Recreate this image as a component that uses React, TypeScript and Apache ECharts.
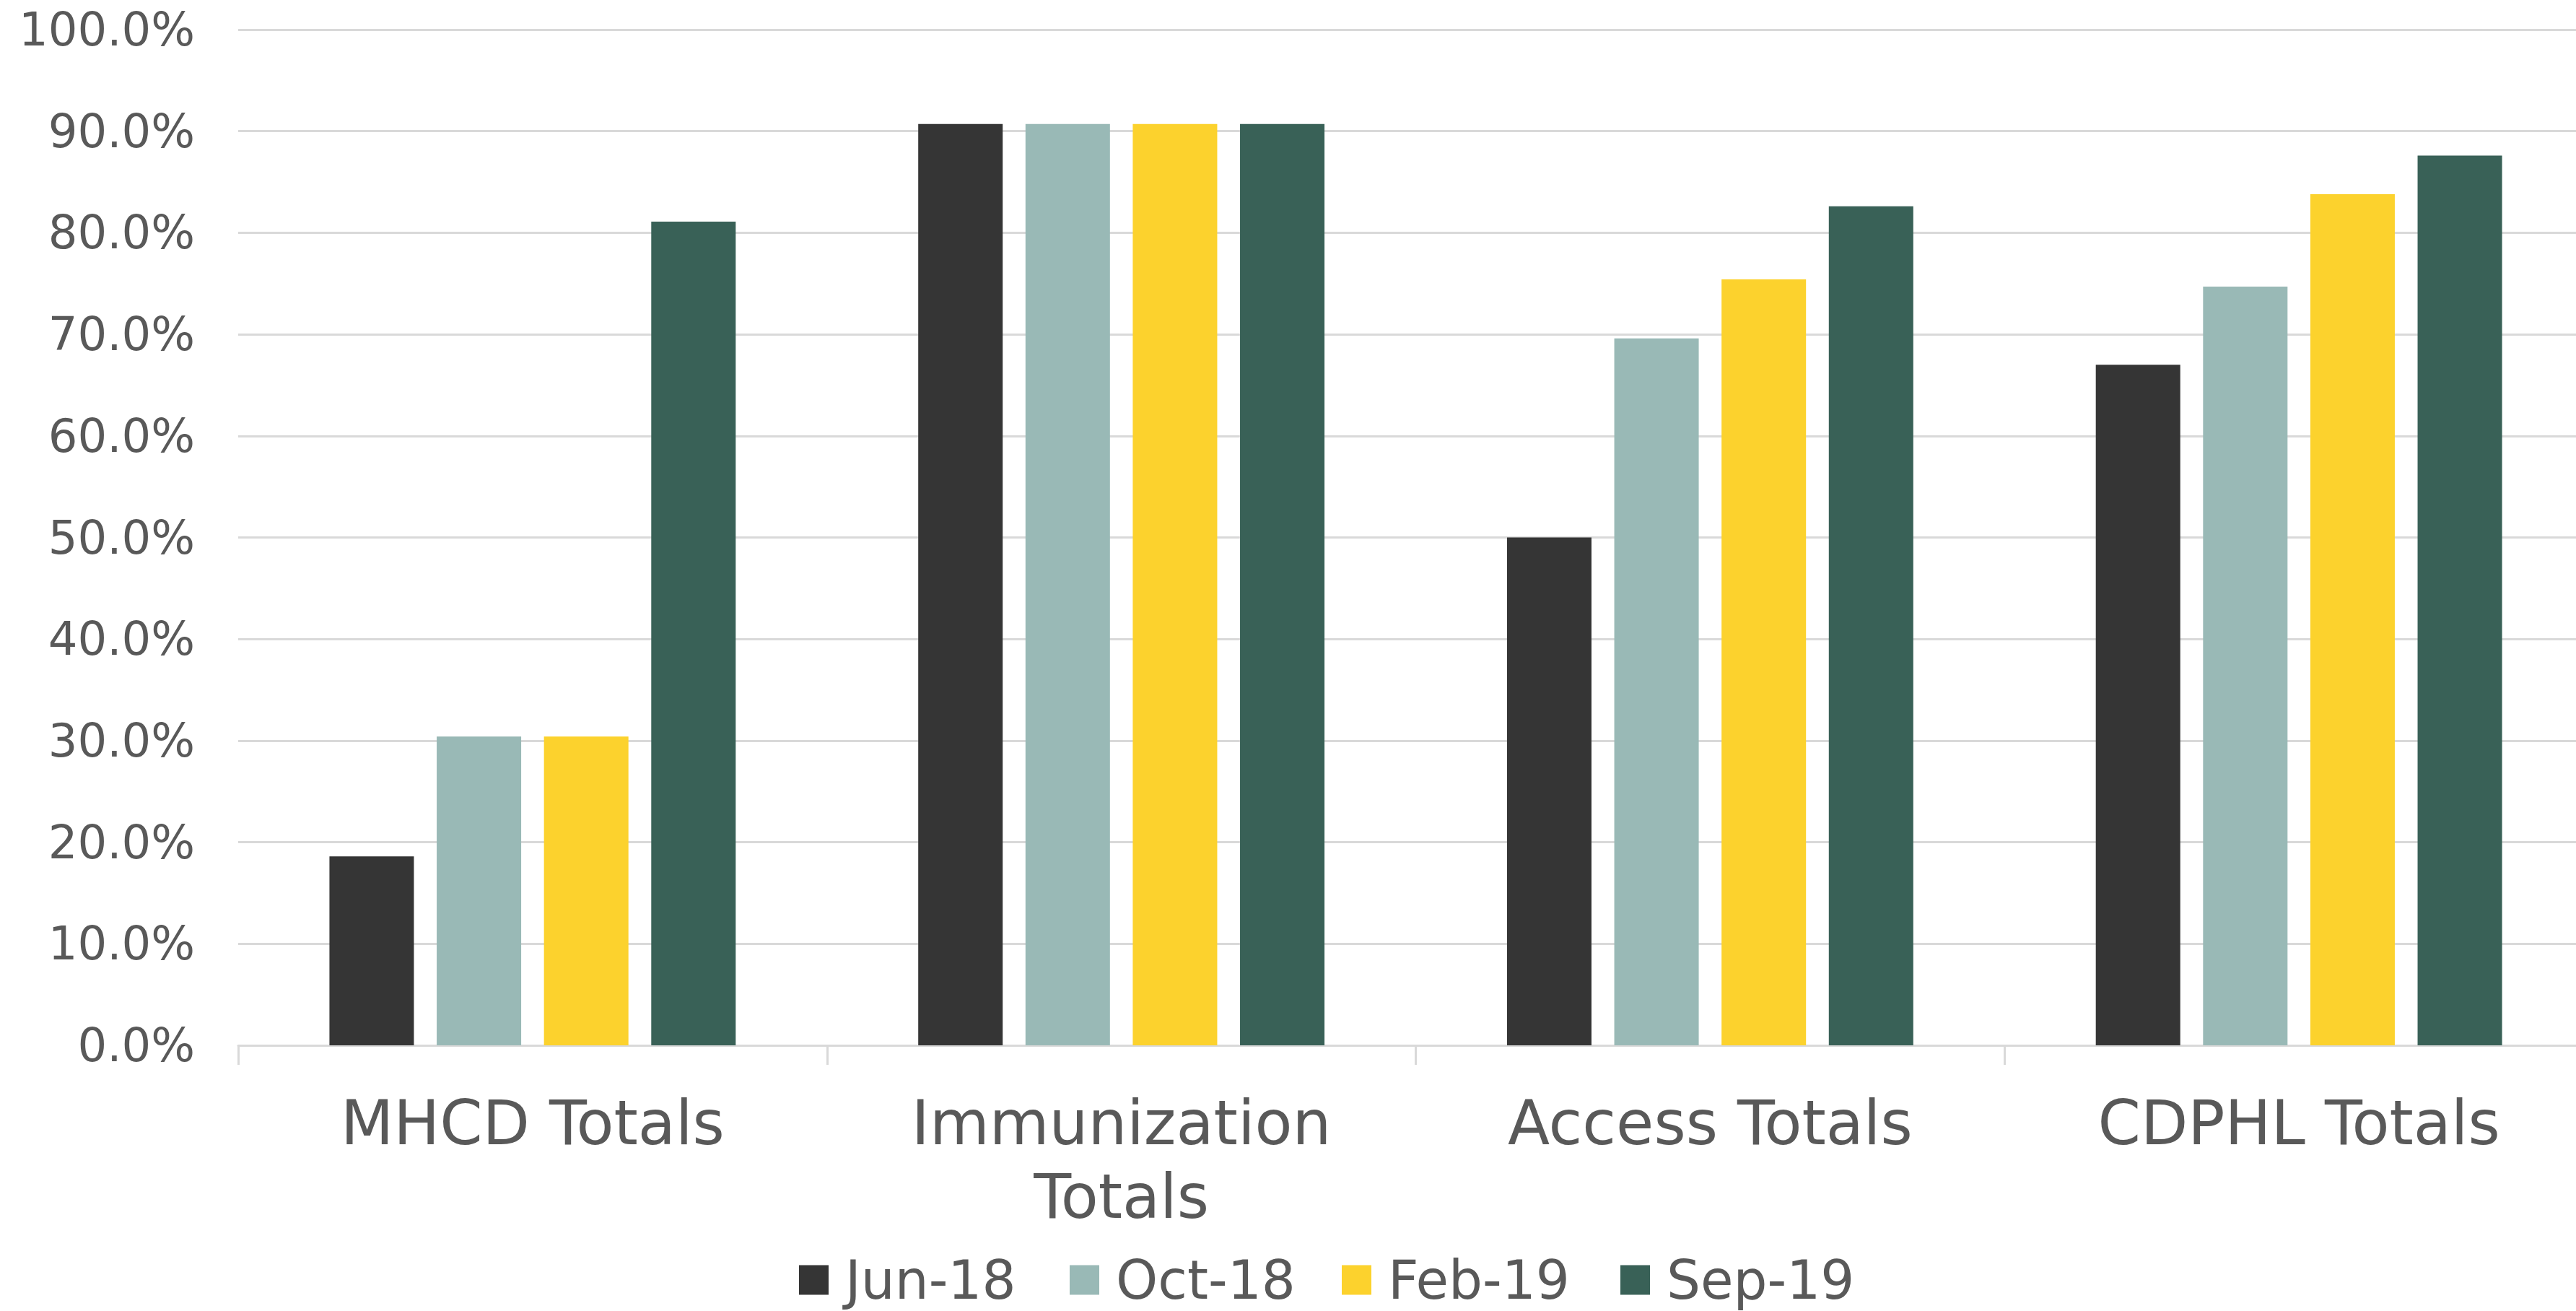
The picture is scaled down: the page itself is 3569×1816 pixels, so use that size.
import React, { useEffect, useRef } from "react";
import * as echarts from "echarts";

const categories = ["MHCD Totals", "Immunization\nTotals", "Access Totals", "CDPHL Totals"];
const seriesNames = ["Jun-18", "Oct-18", "Feb-19", "Sep-19"];
const jun18 = [18.6, 90.7, 50.0, 67.0];
const oct18 = [30.4, 90.7, 69.6, 74.7];
const feb19 = [30.4, 90.7, 75.4, 83.8];
const sep19 = [81.1, 90.7, 82.6, 87.6];
const colors = ["#353535", "#99B9B6", "#FCD22D", "#396157"];
const legendLefts = [1107, 1482, 1859, 2245];

const FONT = "'DejaVu Sans', sans-serif";
const TEXT = "#595959";

export default function App() {
  const ref = useRef<HTMLDivElement>(null);
  useEffect(() => {
    if (!ref.current) return;
    const chart = echarts.init(ref.current, undefined, { renderer: "svg" });
    const values = [jun18, oct18, feb19, sep19];
    chart.setOption({
      animation: false,
      backgroundColor: "#ffffff",
      textStyle: { fontFamily: FONT },
      grid: { left: 330, right: 0, top: 41, bottom: 368, containLabel: false },
      legend: seriesNames.map((name, i) => ({
        data: [name],
        left: legendLefts[i],
        top: 1736,
        itemWidth: 41,
        itemHeight: 41,
        icon: "rect",
        padding: 0,
        textStyle: {
          fontFamily: FONT,
          fontSize: 74,
          lineHeight: 74,
          color: TEXT,
          padding: [0, 0, 0, 18],
        },
      })),
      xAxis: {
        type: "category",
        data: categories,
        axisLine: { show: true, lineStyle: { color: "#d9d9d9", width: 3 } },
        axisTick: { show: true, length: 27, lineStyle: { color: "#d9d9d9", width: 3 } },
        axisLabel: {
          fontFamily: FONT,
          fontSize: 85,
          color: TEXT,
          margin: 56,
          lineHeight: 102,
          interval: 0,
        },
      },
      yAxis: {
        type: "value",
        min: 0,
        max: 100,
        interval: 10,
        axisLine: { show: false },
        axisTick: { show: false },
        splitLine: { lineStyle: { color: "#d9d9d9", width: 3 } },
        axisLabel: {
          fontFamily: FONT,
          fontSize: 64,
          color: TEXT,
          margin: 60,
          formatter: (v: number) => v.toFixed(1) + "%",
        },
      },
      series: seriesNames.map((name, i) => ({
        name,
        type: "bar",
        data: values[i],
        itemStyle: { color: colors[i] },
        barGap: "27%",
        barCategoryGap: "31%",
      })),
    });
    return () => chart.dispose();
  }, []);
  return (
    <div
      ref={ref}
      style={{ position: "fixed", left: 0, top: 0, width: 3593, height: 1816 }}
    />
  );
}
